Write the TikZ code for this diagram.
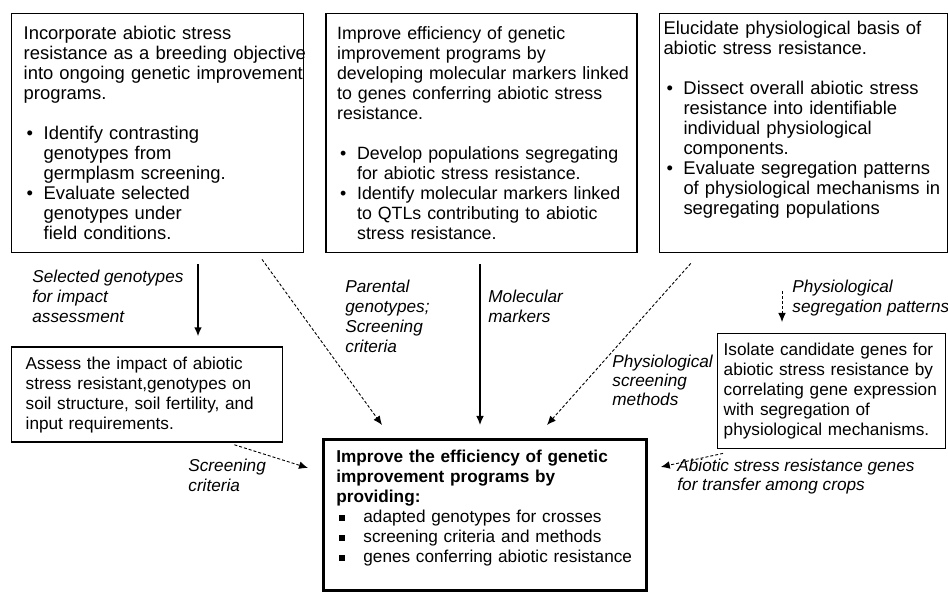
\documentclass[tikz,border=0pt]{standalone}
\usepackage{fontspec}
\setmainfont{Liberation Sans}
\usetikzlibrary{arrows.meta, positioning}

\newcommand{\bitem}{\makebox[10pt][l]{\hspace{1.5pt}\textbullet}}
\newcommand{\bcont}{\hspace*{10pt}}
\newcommand{\sitem}{\makebox[13.5pt][l]{\hspace{1.5pt}\rule[0.8pt]{2.6pt}{2.6pt}}}

\begin{document}
\begin{tikzpicture}[
  x=0.5pt, y=0.5pt,
  font=\fontsize{8.6pt}{10pt}\selectfont,
  >={Latex[length=4.5pt,width=3.8pt]},
  box/.style={draw, line width=0.7pt, align=left, anchor=north west, inner ysep=0pt},
  topbox/.style={box, minimum height=119.5pt, font=\fontsize{9.2pt}{10pt}\selectfont},
  goalbox/.style={box, line width=1.4pt, text width=148.5pt, minimum height=75.5pt, inner xsep=6.5pt},
  lbl/.style={align=left, anchor=north west, inner sep=0pt, font=\fontsize{8.6pt}{10pt}\selectfont\itshape},
  arrow/.style={->, line width=0.8pt},
  dasharrow/.style={->, line width=0.45pt, dash pattern=on 1.5pt off 1pt}
]
\useasboundingbox (0,0) rectangle (948,592);

\node[topbox, text width=134pt, inner xsep=6pt] (incorp) at (11,579) {Incorporate abiotic stress\\
\mbox{resistance as a breeding objective}\\
\mbox{into ongoing genetic improvement}\\
programs.\\[10pt]
\bitem Identify contrasting\\
\bcont genotypes from\\
\bcont germplasm screening.\\
\bitem Evaluate selected\\
\bcont genotypes under\\
\bcont field conditions.};
\node[topbox, text width=144.5pt, inner xsep=5.5pt, font=\fontsize{8.9pt}{10pt}\selectfont, right=10.5pt of incorp.north east, anchor=north west] (markers) {Improve efficiency of genetic\\
improvement programs by\\
\mbox{developing molecular markers linked}\\
\mbox{to genes conferring abiotic stress}\\
resistance.\\[10pt]
\mbox{\bitem Develop populations segregating}\\
\bcont for abiotic stress resistance.\\
\mbox{\bitem Identify molecular markers linked}\\
\mbox{\bcont to QTLs contributing to abiotic}\\
\bcont stress resistance.};
\node[topbox, text width=140pt, inner xsep=2pt, right=10.5pt of markers.north east, anchor=north west] (physio) {Elucidate physiological basis of\\
abiotic stress resistance.\\[10pt]
\bitem Dissect overall abiotic stress\\
\bcont resistance into identifiable\\
\bcont individual physiological\\
\bcont components.\\
\mbox{\bitem Evaluate segregation patterns}\\
\mbox{\bcont of physiological mechanisms in}\\
\bcont segregating populations\\[5pt]
\mbox{}};

\node[box, text width=121.5pt, minimum height=47.5pt, inner xsep=7pt, below=46.5pt of incorp.south west, anchor=north west] (assess) {Assess the impact of abiotic\\
stress resistant,genotypes on\\
soil structure, soil fertility, and\\
input requirements.};
\node[box, text width=108pt, minimum height=57.5pt, inner xsep=3pt] (isolate) at (717,259) {Isolate candidate genes for\\
abiotic stress resistance by\\
\mbox{correlating gene expression}\\
with segregation of\\
physiological mechanisms.};
\node[goalbox] (goal) at (322,154) {\textbf{Improve the efficiency of genetic}\\
\textbf{improvement programs by}\\
\textbf{providing:}\\
\sitem adapted genotypes for crosses\\
\sitem screening criteria and methods\\
\sitem genes conferring abiotic resistance\\[-1pt]
\mbox{}};

\node[lbl] (selLbl) at (32,322) {Selected genotypes\\for impact\\assessment};
\node[lbl] (parLbl) at (345,312) {Parental\\genotypes;\\Screening\\criteria};
\node[lbl] (molLbl) at (488,302) {Molecular\\markers};
\node[lbl, font=\fontsize{8.6pt}{9.3pt}\selectfont\itshape] (physLbl) at (612,237) {Physiological\\screening\\methods};
\node[lbl] (segLbl) at (792,312) {Physiological\\segregation patterns};
\node[lbl, font=\fontsize{8.6pt}{9.2pt}\selectfont\itshape] (genesLbl) at (677,133) {Abiotic stress resistance genes\\for transfer among crops};
\node[lbl] (scrLbl) at (188,133) {Screening\\criteria};

\draw[arrow, shorten <=5.5pt, shorten >=5pt] ([xshift=93.5pt]incorp.south west) -- ([xshift=93.5pt]assess.north west);
\draw[dasharrow] ([xshift=125.5pt,yshift=-3pt]incorp.south west) -- ([xshift=30pt,yshift=6.5pt]goal.north west);
\draw[arrow, line width=0.6pt, shorten <=5.5pt, shorten >=6.5pt] ([xshift=79pt]goal.north west |- markers.south) -- ([xshift=79pt]goal.north west);
\draw[dasharrow] ([xshift=16pt,yshift=-5pt]physio.south west) -- ([xshift=112.5pt,yshift=6.5pt]goal.north west);
\draw[dasharrow, shorten <=19pt, shorten >=5.5pt] ([xshift=32.5pt]isolate.north west |- physio.south) -- ([xshift=32.5pt]isolate.north west);
\draw[dasharrow] ([xshift=-24.5pt,yshift=-1pt]assess.south east) -- ([xshift=-7pt,yshift=-15pt]goal.north west);
\draw[dasharrow] ([xshift=3pt,yshift=-2pt]isolate.south west) -- ([xshift=6.5pt,yshift=-14.5pt]goal.north east);
\end{tikzpicture}
\end{document}
